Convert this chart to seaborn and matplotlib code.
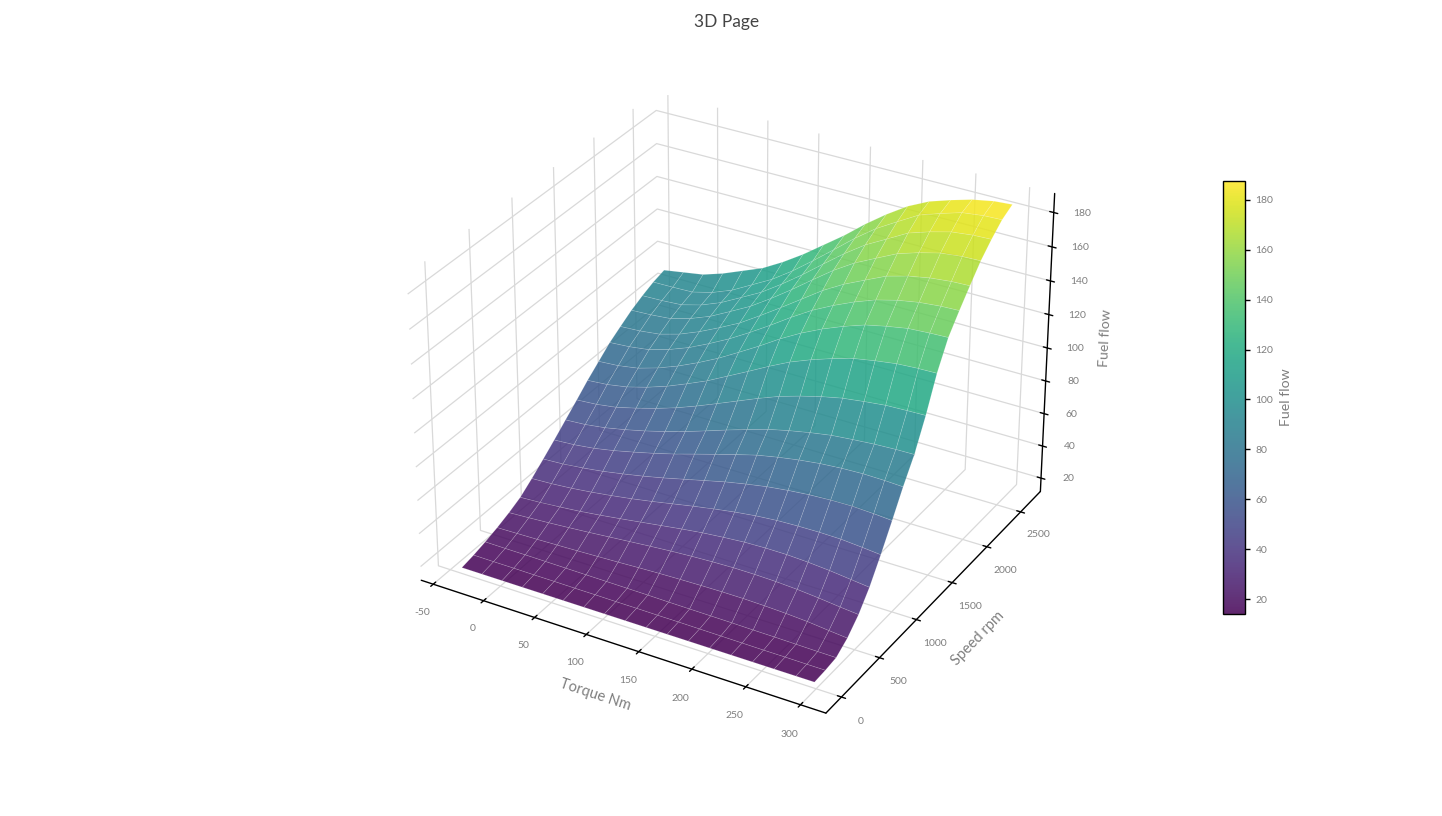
import numpy as np
import matplotlib
matplotlib.use('Agg')
import matplotlib.pyplot as plt
from matplotlib.colors import ListedColormap
import seaborn as sns

torque = [-40, -20, 0, 20, 40, 60, 80, 100, 120, 140, 160, 180, 200, 220, 240, 260, 280, 297]
speed = [20, 160, 300, 445, 590, 730, 875, 1020, 1160, 1305, 1450, 1590, 1735, 1880, 2020, 2165, 2310, 2455, 2600]
# one row per speed
fuel_flow = [
    [14, 14, 14, 14, 14, 14, 14, 14, 14, 14, 14, 14, 14, 14, 14, 14, 14, 14],
    [15.5, 15.4, 15.4, 15.3, 15.3, 15.2, 15.2, 15.1, 15.1, 15, 15, 14.9, 14.8, 14.7, 14.6, 14.6, 14.5, 14.5],
    [17.5, 17.4, 17.4, 17.3, 17.2, 17.1, 17, 16.9, 16.8, 16.6, 16.5, 16.4, 16.3, 16.1, 16, 15.8, 15.6, 15.5],
    [20, 20.3, 20.6, 21, 21.4, 21.9, 22.4, 23, 23.5, 23.9, 24.2, 24.4, 24.4, 24.1, 23.6, 22.8, 21.5, 20.5],
    [23, 23.7, 24.5, 25.4, 26.4, 27.5, 28.6, 29.7, 30.7, 31.5, 32.1, 32.5, 32.5, 32.2, 31.5, 30.4, 29, 28],
    [26.5, 27.2, 28.2, 29.4, 30.9, 32.6, 34.4, 36.2, 38, 39.6, 40.8, 41.8, 42.2, 42.2, 41.6, 40.6, 39.2, 38],
    [32, 32.6, 33.6, 35, 36.7, 38.6, 40.8, 43.2, 45.6, 47.8, 49.8, 51.4, 52.5, 53, 53.2, 53, 52, 51],
    [38, 38.7, 40, 41.7, 43.9, 46.3, 49, 52, 55, 58, 60.5, 62.7, 64.3, 65.5, 66.2, 66.4, 65.8, 65],
    [44, 44.8, 46.3, 48.6, 51.4, 54.4, 57.7, 61.4, 65, 68.6, 72, 74.5, 76.6, 78.2, 79.2, 79.7, 79.5, 79],
    [50.5, 51.3, 53, 55.5, 58.4, 61.7, 65.4, 69.5, 73.7, 77.7, 81.5, 84.4, 86.9, 89, 90.2, 91.2, 91.8, 92],
    [57, 57.9, 59.7, 62.8, 66.3, 70.3, 75, 80.1, 85.3, 90.5, 95.3, 99.1, 102.4, 105.1, 106.8, 108.2, 108.7, 109],
    [63.5, 64.5, 66.6, 70, 74.2, 79.3, 84.7, 91.1, 97.5, 104.1, 110.2, 115.1, 119.3, 122.9, 125.1, 126.9, 127.7, 128],
    [69.5, 70.4, 72.4, 76.1, 80.8, 86.4, 92.6, 99.7, 107, 114.8, 121.7, 127.6, 132.6, 136.9, 139.6, 141.8, 142.6, 143],
    [75.5, 76.4, 78.1, 81.7, 86.4, 92.3, 98.7, 106, 113.8, 122, 129.6, 135.9, 141.4, 146, 149.2, 151.4, 152.6, 153],
    [80, 80.7, 82.2, 85.7, 90.7, 96.6, 102.9, 110.8, 119, 127.5, 136, 143.1, 148.9, 154.6, 158, 160.3, 161.6, 162],
    [84.5, 85.1, 86.2, 89.7, 94.5, 100.9, 107.5, 115.6, 124.3, 133.5, 142.5, 150.2, 156.3, 162.3, 166.2, 169.3, 170.6, 171],
    [88, 88.4, 89.2, 92.5, 97.4, 103.9, 110.5, 118.8, 127.8, 137.5, 147, 155.5, 162.2, 169, 173, 176.2, 177.6, 178],
    [91, 91.2, 91.6, 94.7, 99.5, 106.2, 112.9, 121.3, 130.8, 140.7, 150.8, 159.8, 167.1, 174.2, 178.4, 182.1, 183.6, 184],
    [93, 95, 97, 101, 106, 111, 118, 126, 135, 144, 154, 163, 171, 177, 181, 184.5, 186.8, 187.6],
]
torque_ticks = [-50, 0, 50, 100, 150, 200, 250, 300]
speed_ticks = [0, 500, 1000, 1500, 2000, 2500]
fuel_ticks = [20, 40, 60, 80, 100, 120, 140, 160, 180]

GREY = '#7f7f7f'
W, H = 1442, 816

sns.set_theme(style='white')
plt.rcParams['font.family'] = ['Lato', 'DejaVu Sans']
plt.rcParams['axes.unicode_minus'] = False

X, Y = np.meshgrid(torque, speed)
Z = np.array(fuel_flow)
viridis = sns.color_palette('viridis', as_cmap=True)
colours = viridis(np.arange(256))
colours[:, 3] = 0.85
cmap = ListedColormap(colours)

fig = plt.figure(figsize=(W/100, H/100), dpi=100)
ax = fig.add_subplot(projection='3d')
ax.set_position([(725.83 - 408)/W, (H - 398.57 - 408)/H, 816/W, 816/H])
ax.view_init(elev=30.1148, azim=-60.1083, roll=-0.0833)
ax.set_proj_type('persp', focal_length=0.8728)
ax.set_box_aspect((1, 1.0017, 0.7529), zoom=0.8835)

surf = ax.plot_surface(X, Y, Z, cmap=cmap, vmin=14, vmax=187.6, rstride=1, cstride=1,
                       linewidth=0.5, edgecolor=(1, 1, 1, 0.18), antialiased=True, shade=False)

ax.set_xlim(-62, 323, view_margin=0)
ax.set_ylim(-200, 2800, view_margin=0)
ax.set_zlim(11.6, 191, view_margin=0)
ax.set_xticks(torque_ticks)
ax.set_yticks(speed_ticks)
ax.set_zticks(fuel_ticks)

for axis in [ax.xaxis, ax.yaxis, ax.zaxis]:
    axis.set_pane_color((1, 1, 1, 0))
    axis.pane.set_edgecolor((1, 1, 1, 0))
    axis.line.set_color('black')
    axis.line.set_linewidth(1)
    axis._axinfo['grid'].update(color='#d9d9d9', linewidth=0.9)
    axis._axinfo['tick'].update(inward_factor=0.12, outward_factor=0.12)
    axis._axinfo['tick']['linewidth'] = {True: 1, False: 1}
ax.tick_params(axis='both', labelsize=7.5, labelcolor=GREY, color='black', pad=6)
ax.tick_params(axis='z', labelsize=7.5, labelcolor=GREY, color='black', pad=6)

ax.set_xlabel('Torque Nm', fontsize=10.5, color=GREY, labelpad=8)
ax.set_ylabel('Speed rpm', fontsize=10.5, color=GREY, labelpad=9)
ax.set_zlabel('Fuel flow', fontsize=10.2, color=GREY, labelpad=8)

fig.text(727/W, 1 - 22/H, '3D Page', ha='center', va='center', fontsize=12.5, color='#444444')

cax = fig.add_axes([1223/W, (H - 614)/H, 22/W, 433/H])
cbar = fig.colorbar(surf, cax=cax, ticks=fuel_ticks)
cbar.outline.set_edgecolor('black')
cbar.outline.set_linewidth(1)
cbar.ax.tick_params(length=3.6, width=1, color='black', labelcolor=GREY, labelsize=7.5, pad=4, left=False, right=True)
cbar.set_label('Fuel flow', fontsize=10.2, color=GREY, labelpad=5)

fig.savefig('out.png', dpi=100)
plt.close()
